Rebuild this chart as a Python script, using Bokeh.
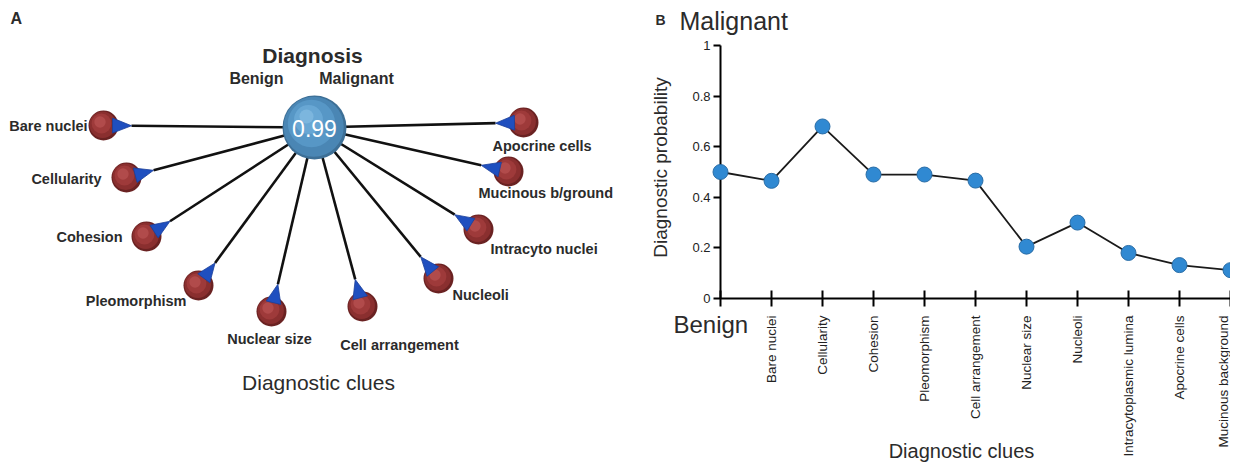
import math
from bokeh.plotting import figure
from bokeh.models import Range1d, FixedTicker
from bokeh.layouts import row
from bokeh.embed import file_html
from bokeh.resources import INLINE
from bokeh.core.properties import value

# ---------------- data ----------------
# Panel A: network of diagnostic clues
clue_names = ["Bare nuclei", "Cellularity", "Cohesion", "Pleomorphism", "Nuclear size",
              "Cell arrangement", "Nucleoli", "Intracyto nuclei", "Mucinous b/ground",
              "Apocrine cells"]
diag_value = 0.99

# Panel B: diagnostic probability after each clue
clue_axis = ["Bare nuclei", "Cellularity", "Cohesion", "Pleomorphism", "Cell arrangement",
             "Nuclear size", "Nucleoli", "Intracytoplasmic lumina", "Apocrine cells",
             "Mucinous background"]
prior_prob = 0.50
clue_probs = [0.465, 0.68, 0.49, 0.49, 0.466, 0.205, 0.30, 0.18, 0.132, 0.112]

# ---------------- layout constants ----------------
W1, W2, H = 648, 582, 466
B_TOP, B_LEFT2 = 45, 72
B_BOTTOM = H - 298
center_xy = (314, 127)
center_r = 32
node_r = 15
node_offsets = [(-211, -2), (-188, 50), (-168, 109), (-116, 158), (-43, 184),
                (48, 179), (124, 151), (164, 102), (194, 44), (209, -5)]
label_offsets = [(-16, 0, "right"), (-25, 1, "right"), (-24, 0, "right"), (-12, 15, "right"),
                 (-2, 27, "center"), (37, 38, "center"), (14, 16, "left"), (12, 19, "left"),
                 (-30, 21, "left"), (-31, 23, "left")]

FONT = value("Liberation Sans")
TXT = "#2b2b2b"
OV = "overlay"

# ---------------- panel A ----------------
p1 = figure(width=W1, height=H, x_range=Range1d(0, W1), y_range=Range1d(H - B_BOTTOM, B_TOP),
            output_backend="svg", toolbar_location=None, x_axis_type=None, y_axis_type=None,
            min_border_left=0, min_border_right=0, min_border_top=B_TOP,
            min_border_bottom=B_BOTTOM)
p1.grid.visible = False
p1.outline_line_color = None

cx, cy = center_xy
nx = [cx + dx for dx, dy in node_offsets]
ny = [cy + dy for dx, dy in node_offsets]

tips_x, tips_y, tri_xs, tri_ys = [], [], [], []
for x, y in zip(nx, ny):
    ux, uy = cx - x, cy - y
    d = math.hypot(ux, uy)
    ux, uy = ux / d, uy / d
    px, py = -uy, ux
    tx, ty = x + ux * (node_r + 13), y + uy * (node_r + 13)
    bx, by = x + ux * (node_r - 6), y + uy * (node_r - 6)
    tips_x.append(tx); tips_y.append(ty)
    tri_xs.append([tx, bx + px * 7.5, bx - px * 7.5])
    tri_ys.append([ty, by + py * 7.5, by - py * 7.5])

p1.segment(x0=[cx] * len(nx), y0=[cy] * len(ny), x1=tips_x, y1=tips_y,
           line_color="#111111", line_width=2.6, level=OV)

shades = [(0, 0, 1.0, "#6a2222"), (-0.8, -0.8, 0.88, "#8a2f2f"), (-2, -2, 0.66, "#9e3a3a"),
          (-3.5, -3.5, 0.38, "#b14b4b")]
for ox, oy, f, col in shades:
    p1.circle(x=[x + ox for x in nx], y=[y + oy for y in ny], radius=node_r * f,
              fill_color=col, line_color=None, level=OV)
p1.patches(xs=tri_xs, ys=tri_ys, fill_color="#1f4fbf", line_color="#1a3f99", line_width=0.8,
           level=OV)

cshades = [(0, 0, 1.0, "#3d6f96"), (-0.8, -0.8, 0.94, "#4a86b4"), (-3, -4, 0.74, "#5797c6"),
           (-6, -8, 0.45, "#68a7d4"), (-8, -11, 0.22, "#7cb6de")]
for ox, oy, f, col in cshades:
    p1.circle(x=[cx + ox], y=[cy + oy], radius=center_r * f, fill_color=col, line_color=None,
              level=OV)
p1.text(x=[cx], y=[cy + 1], text=[f"{diag_value:.2f}"], text_color="white",
        text_font=FONT, text_font_size="23px", text_align="center", text_baseline="middle",
        level=OV)

for name, (x, y), (lx, ly, al) in zip(clue_names, zip(nx, ny), label_offsets):
    p1.text(x=[x + lx], y=[y + ly], text=[name], text_font=FONT, text_font_size="14.5px",
            text_font_style="bold", text_color=TXT, text_align=al, text_baseline="middle",
            level=OV)

p1.text(x=[10], y=[18], text=["A"], text_font=FONT, text_font_size="16px",
        text_font_style="bold", text_color=TXT, text_baseline="middle", level=OV)
p1.text(x=[312], y=[55], text=["Diagnosis"], text_font=FONT, text_font_size="21px",
        text_font_style="bold", text_color=TXT, text_align="center", text_baseline="middle",
        level=OV)
p1.text(x=[256, 356], y=[78, 78], text=["Benign", "Malignant"], text_font=FONT,
        text_font_size="16px", text_font_style="bold", text_color=TXT, text_align="center",
        text_baseline="middle", level=OV)
p1.text(x=[318], y=[382], text=["Diagnostic clues"], text_font=FONT, text_font_size="21px",
        text_color=TXT, text_align="center", text_baseline="middle", level=OV)

# ---------------- panel B ----------------
p2 = figure(width=W2, height=H, x_range=Range1d(0, 10), y_range=Range1d(0, 1),
            output_backend="svg", toolbar_location=None, min_border_left=B_LEFT2,
            min_border_right=0, min_border_top=B_TOP, min_border_bottom=B_BOTTOM)
p2.grid.visible = False
p2.outline_line_color = None

xs = list(range(len(clue_axis) + 1))
ys = [prior_prob] + clue_probs
p2.line(xs, ys, line_color="#1a1a1a", line_width=1.8, level=OV)
p2.scatter(xs, ys, size=15, fill_color="#3089d2", line_color="#2a6da6", line_width=1,
           level=OV)

xa = p2.xaxis[0]
xa.ticker = FixedTicker(ticks=xs)
xa.major_label_overrides = {0: ""} | {i + 1: n for i, n in enumerate(clue_axis)}
xa.major_label_orientation = math.pi / 2
xa.major_label_text_font = "Liberation Sans"
xa.major_label_text_font_size = "13.5px"
xa.major_label_text_color = "#222222"
xa.axis_line_width = 2
xa.major_tick_line_width = 2
xa.major_tick_in = 8
xa.major_tick_out = 8
xa.minor_tick_line_color = None
xa.major_label_standoff = 9

ya = p2.yaxis[0]
ya.ticker = FixedTicker(ticks=[0, 0.2, 0.4, 0.6, 0.8, 1.0])
ya.major_label_overrides = {0: "0", 1: "1"}
ya.major_label_text_font = "Liberation Sans"
ya.major_label_text_font_size = "13px"
ya.major_label_text_color = "#222222"
ya.axis_line_width = 2
ya.major_tick_line_width = 2
ya.major_tick_in = 0
ya.major_tick_out = 7
ya.minor_tick_line_color = None
ya.major_label_standoff = 3

def lab(x, y, t, size, **kw):
    p2.text(x=[x], y=[y], text=[t], text_font=FONT, text_font_size=size,
            text_color=TXT, level=OV, **kw)

lab(-1.275, 1.099, "B", "14px", text_font_style="bold", text_baseline="middle")
lab(-0.804, 1.095, "Malignant", "25px", text_baseline="middle")
lab(-0.922, -0.103, "Benign", "24px", text_baseline="middle")
lab(4.725, -0.601, "Diagnostic clues", "20px", text_align="center", text_baseline="middle")
lab(-1.176, 0.518, "Diagnostic probability", "19px", text_align="center",
    text_baseline="middle", angle=math.pi / 2)

layout = row(p1, p2)
open("out.html", "w").write(file_html(layout, INLINE))
